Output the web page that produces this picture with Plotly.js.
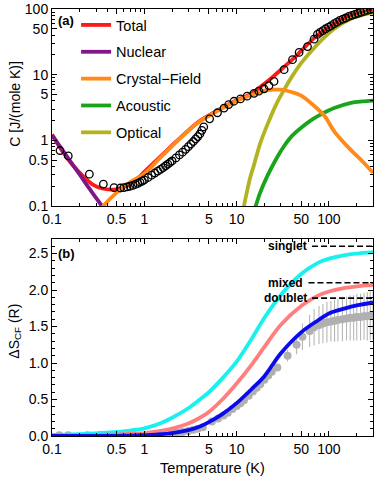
<!DOCTYPE html>
<html>
<head>
<meta charset="utf-8">
<script src="https://cdn.plot.ly/plotly-3.0.1.min.js"></script>
<style>html,body{margin:0;padding:0;background:#fff;}#chart{width:382px;height:479px;}</style>
</head>
<body>
<div id="chart"></div>
<script>
// ---------- Panel (a): heat capacity ----------
const T_total = [0.1, 0.13, 0.17, 0.22, 0.28, 0.35, 0.43, 0.5, 0.6, 0.7, 0.8, 0.9, 1, 1.5, 2, 3, 4, 5, 7, 10, 14, 20, 25, 32, 40, 50, 75, 115, 170, 230, 300];
const C_total = [1.23, 0.68, 0.41, 0.28, 0.21, 0.185, 0.178, 0.18, 0.195, 0.22, 0.25, 0.285, 0.33, 0.57, 0.84, 1.42, 1.98, 2.4, 3.15, 4.1, 5.0, 7.3, 9.4, 12.8, 17, 23, 40, 60, 80, 90, 95];

const T_nuclear = [0.1, 0.15, 0.2, 0.25, 0.3, 0.36, 0.4];
const C_nuclear = [1.2, 0.53, 0.30, 0.19, 0.133, 0.093, 0.075];

const T_cf = [0.3, 0.36, 0.5, 0.7, 1, 1.5, 2, 3, 4, 5, 7, 10, 14, 20, 25, 30, 40, 50, 70, 90, 115, 170, 230, 300];
const C_cf = [0.07, 0.1, 0.16, 0.23, 0.31, 0.55, 0.82, 1.4, 1.95, 2.35, 3.1, 4.0, 4.8, 5.7, 5.9, 5.9, 5.4, 4.8, 3.3, 2.33, 1.35, 0.73, 0.48, 0.32];

const T_acoustic = [15, 16.1, 18, 21.6, 27, 32.7, 40, 50, 65, 82, 114, 173, 230, 300];
const C_acoustic = [0.07, 0.1, 0.16, 0.29, 0.53, 0.82, 1.18, 1.56, 2.05, 2.48, 3.1, 3.73, 3.92, 4.03];

const T_optical = [11.5, 12, 13, 14, 15.4, 18, 21.6, 27, 32.7, 40, 50, 75, 114, 173, 230, 300];
const C_optical = [0.07, 0.1, 0.17, 0.27, 0.42, 0.9, 1.75, 3.6, 5.9, 9.5, 15, 29, 50, 71, 81, 88];

const T_meas = [0.122, 0.15, 0.254, 0.36, 0.47,
  0.55, 0.6, 0.65, 0.7, 0.75, 0.8, 0.85, 0.9, 0.95, 1.0, 1.1, 1.2, 1.3, 1.4, 1.5, 1.6, 1.7, 1.8, 1.9, 2.0, 2.2, 2.4, 2.6, 2.8, 3.0, 3.2, 3.4, 3.6, 3.8, 4.0, 4.2, 4.4,
  5.1, 6.2, 7.3, 8.2, 9.35, 11, 13, 15.4, 17.4, 19.8, 22.4, 25.4, 32.7, 40.3, 47.5, 58.6, 69,
  75, 80, 86, 92, 99, 106, 114, 122, 131, 141, 152, 164, 177, 191, 206, 222, 240, 259, 280, 300];
const C_meas = [0.70, 0.58, 0.305, 0.215, 0.19,
  0.188, 0.19, 0.195, 0.2, 0.206, 0.213, 0.221, 0.23, 0.24, 0.25, 0.272, 0.295, 0.318, 0.34, 0.362, 0.385, 0.41, 0.435, 0.46, 0.485, 0.54, 0.6, 0.66, 0.73, 0.8, 0.88, 0.96, 1.05, 1.14, 1.25, 1.42, 1.6,
  2.13, 2.63, 3.1, 3.5, 3.94, 4.27, 4.7, 5.2, 5.6, 6.1, 6.8, 7.9, 11.9, 16.9, 21.8, 26.8, 34.7,
  41, 44, 47, 50, 53, 56, 60, 63, 67, 70, 73, 77, 80, 83, 86, 89, 92, 95, 98, 100];

// ---------- Panel (b): crystal-field entropy ----------
const T_S = [0.1, 0.2, 0.33, 0.5, 0.7, 1, 1.5, 2, 3, 4, 5, 7, 10, 15, 20, 30, 50, 75, 100, 150, 200, 300];
const S_singlet = [0.01, 0.025, 0.04, 0.055, 0.075, 0.105, 0.175, 0.25, 0.38, 0.5, 0.6, 0.79, 1.02, 1.36, 1.62, 1.93, 2.22, 2.37, 2.43, 2.48, 2.5, 2.52];
const S_mixed   = [0.01, 0.012, 0.015, 0.02, 0.028, 0.04, 0.07, 0.1, 0.17, 0.25, 0.33, 0.5, 0.72, 1.0, 1.22, 1.52, 1.78, 1.92, 1.98, 2.03, 2.05, 2.07];
const S_doublet = [0.0, 0.0, 0.001, 0.003, 0.006, 0.01, 0.025, 0.04, 0.08, 0.13, 0.19, 0.3, 0.45, 0.66, 0.82, 1.13, 1.42, 1.58, 1.68, 1.75, 1.79, 1.83];

const T_Sdata = [0.12, 0.15, 0.24, 0.33, 2.0, 2.3, 2.6, 3.0, 3.4, 3.8, 4.3, 5.4, 6.3, 7.2, 8, 9, 10, 11, 12, 13.5, 15, 16.5, 18, 20, 22, 24, 27.6, 35.6, 44.6, 51.6, 61.7, 69, 78, 86, 95, 105, 115, 125, 140, 155, 170, 185, 200, 220, 240, 260, 280, 300];
const S_data = [0.01, 0.01, 0.01, 0.015, 0.035, 0.045, 0.055, 0.07, 0.085, 0.1, 0.12, 0.2, 0.24, 0.28, 0.32, 0.37, 0.41, 0.45, 0.49, 0.55, 0.61, 0.66, 0.71, 0.77, 0.83, 0.88, 0.94, 1.1, 1.25, 1.36, 1.44, 1.49, 1.52, 1.54, 1.56, 1.57, 1.58, 1.59, 1.6, 1.61, 1.62, 1.62, 1.63, 1.63, 1.64, 1.64, 1.65, 1.65];
const S_err = [0, 0, 0, 0, 0, 0, 0, 0, 0, 0, 0, 0, 0, 0, 0, 0, 0, 0, 0, 0.01, 0.01, 0.01, 0.01, 0.02, 0.02, 0.02, 0.03, 0.08, 0.13, 0.18, 0.22, 0.25, 0.26, 0.27, 0.28, 0.28, 0.29, 0.29, 0.3, 0.3, 0.31, 0.31, 0.32, 0.32, 0.32, 0.33, 0.33, 0.33];

const refNames = ['singlet', 'mixed', 'doublet'];
const refLevels = [2.6, 2.1, 1.89];
const refStartT = [65.6, 60, 65.6];
const refEndT = 300;

const xTickVals = [0.1, 0.5, 1, 5, 10, 50, 100];
const xTickText = ['0.1', '0.5', '1', '5', '10', '50', '100'];
const yTickValsA = [0.1, 0.5, 1, 5, 10, 50, 100];
const yTickTextA = ['0.1', '0.5', '1', '5', '10', '50', '100'];
const yTickValsB = [0, 0.5, 1, 1.5, 2, 2.5];
const yTickTextB = ['0.0', '0.5', '1.0', '1.5', '2.0', '2.5'];

// minor tick positions
const logMinorX = [0.2,0.3,0.4,0.6,0.7,0.8,0.9,2,3,4,6,7,8,9,20,30,40,60,70,80,90,200,300];
const logMinorY = [0.2,0.3,0.4,0.6,0.7,0.8,0.9,2,3,4,6,7,8,9,20,30,40,60,70,80,90];

const FONT = 'Liberation Sans, Arial, Helvetica, sans-serif';

function line(x, y, name, color, rank, xa, ya, show) {
  return {x: x, y: y, name: name, type: 'scatter', mode: 'lines',
    line: {color: color, width: 3.8, shape: 'spline', smoothing: 0.9}, xaxis: xa, yaxis: ya,
    showlegend: show, legendrank: rank, legendgroup: name};
}

const traces = [
  line(T_total, C_total, 'Total', '#ff1a1a', 1, 'x', 'y', true),
  line(T_nuclear, C_nuclear, 'Nuclear', '#80168a', 2, 'x', 'y', true),
  line(T_acoustic, C_acoustic, 'Acoustic', '#19a519', 4, 'x', 'y', true),
  line(T_optical, C_optical, 'Optical', '#b3b322', 5, 'x', 'y', true),
  line(T_cf, C_cf, 'Crystal\u2212Field', '#ff8a1a', 3, 'x', 'y', true),
  {x: T_meas, y: C_meas, type: 'scatter', mode: 'markers', showlegend: false,
    marker: {symbol: 'circle-open', size: 7.5, color: '#000', line: {width: 1.3, color: '#000'}},
    xaxis: 'x', yaxis: 'y'},
  {x: T_Sdata, y: S_data, type: 'scatter', mode: 'markers', showlegend: false,
    marker: {symbol: 'circle', size: 8, color: '#b0b0b0'},
    error_y: {type: 'data', array: S_err, arrayminus: S_err, color: '#b8b8b8', thickness: 1.1, width: 0},
    xaxis: 'x2', yaxis: 'y2'},
  line(T_S, S_singlet, 'singlet', '#19f0f0', 10, 'x2', 'y2', false),
  line(T_S, S_mixed, 'mixed', '#ff7f7f', 11, 'x2', 'y2', false),
  line(T_S, S_doublet, 'doublet', '#0a0aee', 12, 'x2', 'y2', false)
];

const annotations = [
  {text: '<b>(a)</b>', xref: 'x domain', yref: 'y domain', x: 0.012, y: 0.94, xanchor: 'left', yanchor: 'middle', showarrow: false, font: {family: FONT, size: 13, color: '#000'}},
  {text: '<b>(b)</b>', xref: 'x2 domain', yref: 'y2 domain', x: 0.012, y: 0.924, xanchor: 'left', yanchor: 'middle', showarrow: false, font: {family: FONT, size: 13, color: '#000'}},
  {text: 'C [J/(mole K)]', xref: 'paper', yref: 'y domain', x: -0.118, y: 0.52, xanchor: 'center', yanchor: 'middle', textangle: -90, showarrow: false, font: {family: FONT, size: 14, color: '#000'}},
  {text: '\u0394S<sub>CF</sub> (R)', xref: 'paper', yref: 'y2 domain', x: -0.118, y: 0.53, xanchor: 'center', yanchor: 'middle', textangle: -90, showarrow: false, font: {family: FONT, size: 14, color: '#000'}}
];

refNames.forEach(function (nm, i) {
  traces.push({x: [refStartT[i], refEndT], y: [refLevels[i], refLevels[i]], type: 'scatter', mode: 'lines',
    line: {color: '#000', width: 1.6, dash: '6px,3px'}, showlegend: false, xaxis: 'x2', yaxis: 'y2', cliponaxis: false});
  annotations.push({text: '<b>' + nm + '</b>', xref: 'x2', yref: 'y2', x: Math.log10(refStartT[i]), y: refLevels[i],
    xanchor: 'right', yanchor: 'middle', xshift: -3, showarrow: false, font: {family: FONT, size: 12, color: '#000'}});
});

function axisCommon() {
  return {showline: true, linecolor: '#000', linewidth: 1, mirror: 'allticks', ticks: 'inside', ticklen: 5,
    tickwidth: 1, tickcolor: '#000', showgrid: false, zeroline: false,
    tickfont: {family: FONT, size: 14, color: '#000'}};
}

const xA = Object.assign(axisCommon(), {type: 'log', range: [-1, Math.log10(300)], domain: [0, 1], anchor: 'y',
  tickmode: 'array', tickvals: xTickVals, ticktext: xTickText,
  minor: {tickmode: 'array', tickvals: logMinorX, ticks: 'inside', ticklen: 3, tickcolor: '#000', showgrid: false}});
const xB = Object.assign(axisCommon(), {type: 'log', range: [-1, Math.log10(300)], domain: [0, 1], anchor: 'y2',
  tickmode: 'array', tickvals: xTickVals, ticktext: xTickText,
  minor: {tickmode: 'array', tickvals: logMinorX, ticks: 'inside', ticklen: 3, tickcolor: '#000', showgrid: false},
  title: {text: 'Temperature (K)', font: {family: FONT, size: 14.5, color: '#000'}, standoff: 7}});
const yA = Object.assign(axisCommon(), {type: 'log', range: [-1, 2], domain: [0.5386, 1], anchor: 'x',
  tickmode: 'array', tickvals: yTickValsA, ticktext: yTickTextA,
  minor: {tickmode: 'array', tickvals: logMinorY, ticks: 'inside', ticklen: 3, tickcolor: '#000', showgrid: false}});
const yB = Object.assign(axisCommon(), {type: 'linear', range: [0, 2.7], domain: [0, 0.4614], anchor: 'x2',
  tickmode: 'array', tickvals: yTickValsB, ticktext: yTickTextB,
  minor: {dtick: 0.1, ticks: 'inside', ticklen: 3, tickcolor: '#000', showgrid: false}});

const layout = {
  width: 382, height: 479,
  margin: {l: 52, r: 9, t: 9, b: 43, pad: 0},
  paper_bgcolor: '#fff', plot_bgcolor: '#fff',
  font: {family: FONT, color: '#000'},
  xaxis: xA, yaxis: yA, xaxis2: xB, yaxis2: yB,
  showlegend: true,
  legend: {x: 0.075, y: 1.0, xanchor: 'left', yanchor: 'top', bgcolor: 'rgba(0,0,0,0)', borderwidth: 0,
    font: {family: FONT, size: 14.5, color: '#000'}, tracegroupgap: 5, traceorder: 'grouped', itemwidth: 30},
  annotations: annotations
};

Plotly.newPlot('chart', traces, layout, {staticPlot: true, displayModeBar: false});
</script>
</body>
</html>
